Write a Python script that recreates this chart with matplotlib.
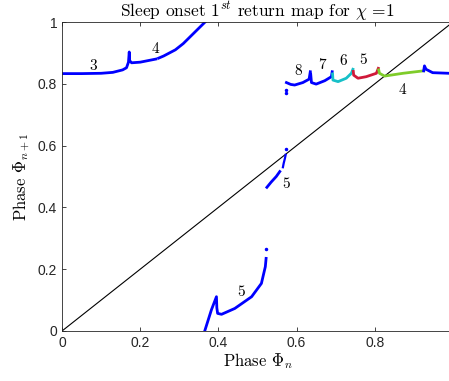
import numpy as np
import matplotlib
matplotlib.use('Agg')
import matplotlib.pyplot as plt

plt.rcParams['mathtext.fontset'] = 'cm'

# branch curves (phase_n, phase_n+1)
top_left_x = [0.0, 0.05, 0.10, 0.13, 0.155, 0.165, 0.170, 0.172, 0.173, 0.178, 0.20, 0.24]
top_left_y = [0.833, 0.833, 0.834, 0.837, 0.845, 0.852, 0.870, 0.903, 0.875, 0.868, 0.870, 0.880]
top_left2_x = [0.247, 0.26, 0.29, 0.31, 0.33, 0.35, 0.366]
top_left2_y = [0.883, 0.890, 0.910, 0.930, 0.955, 0.980, 1.0]

b8_x = [0.574, 0.585, 0.595, 0.616, 0.632, 0.635]
b8_y = [0.804, 0.798, 0.796, 0.804, 0.815, 0.839]
b8_dots_x = [0.572, 0.572]
b8_dots_y = [0.780, 0.770]
b7_x = [0.636, 0.638, 0.650, 0.672, 0.689, 0.691]
b7_y = [0.832, 0.804, 0.799, 0.810, 0.823, 0.839]
b6_x = [0.692, 0.693, 0.706, 0.727, 0.740, 0.744]
b6_y = [0.832, 0.812, 0.807, 0.818, 0.834, 0.847]
b5_x = [0.745, 0.746, 0.757, 0.778, 0.804, 0.809]
b5_y = [0.840, 0.828, 0.818, 0.823, 0.834, 0.850]
b4_x = [0.810, 0.812, 0.825, 0.872, 0.925]
b4_y = [0.845, 0.834, 0.825, 0.834, 0.842]
b4b_x = [0.925, 0.927, 0.931, 0.948, 0.99, 1.0]
b4b_y = [0.842, 0.858, 0.847, 0.836, 0.834, 0.834]

mid_x = [0.524, 0.535, 0.548, 0.557]
mid_y = [0.465, 0.482, 0.500, 0.516]
mid2_x = [0.565, 0.567, 0.570, 0.572]
mid2_y = [0.530, 0.543, 0.558, 0.570]
mid_dot = (0.572, 0.588)

low_x = [0.365, 0.382, 0.395, 0.396, 0.398, 0.408, 0.442, 0.485, 0.510, 0.520, 0.522]
low_y = [0.0, 0.068, 0.111, 0.075, 0.057, 0.054, 0.073, 0.111, 0.154, 0.208, 0.235]
low_dot = (0.523, 0.264)

labels = [('3', 0.079, 0.858), ('4', 0.238, 0.913), ('8', 0.603, 0.842),
          ('7', 0.664, 0.860), ('6', 0.718, 0.872), ('5', 0.771, 0.878),
          ('4', 0.871, 0.78), ('5', 0.574, 0.476), ('5', 0.457, 0.126)]

blue = '#0000ff'
cyan = '#17c0c8'
red = '#d0193a'
green = '#7fcc2a'

fig = plt.figure(figsize=(4.49, 3.81), dpi=100)
ax = fig.add_axes([62/449, 50/381, 391/449, 309/381])

ax.plot([0, 1], [0, 1], color='black', lw=0.8)

lw = 2.0
ax.plot(top_left_x, top_left_y, color=blue, lw=lw)
ax.plot(top_left2_x, top_left2_y, color=blue, lw=lw)
ax.plot(b8_x, b8_y, color=blue, lw=lw)
ax.plot(b8_dots_x, b8_dots_y, '.', color=blue, ms=3)
ax.plot(b7_x, b7_y, color=blue, lw=lw)
ax.plot(b6_x, b6_y, color=cyan, lw=lw)
ax.plot(b5_x, b5_y, color=red, lw=lw)
ax.plot(b4_x, b4_y, color=green, lw=lw)
ax.plot(b4b_x, b4b_y, color=blue, lw=lw)
ax.plot(mid_x, mid_y, color=blue, lw=lw)
ax.plot(mid2_x, mid2_y, color=blue, lw=1.6)
ax.plot([mid_dot[0]], [mid_dot[1]], '.', color=blue, ms=3)
ax.plot(low_x, low_y, color=blue, lw=lw)
ax.plot([low_dot[0]], [low_dot[1]], '.', color=blue, ms=3)

for t, x, y in labels:
    ax.text(x, y, t, family='cmr10', fontsize=11, ha='center', va='center')

ax.set_xlim(0, 1)
ax.set_ylim(0, 1)
ax.set_xticks([0, 0.2, 0.4, 0.6, 0.8])
ax.set_xticklabels(['0', '0.2', '0.4', '0.6', '0.8'])
ax.set_yticks([0, 0.2, 0.4, 0.6, 0.8, 1])
ax.set_yticklabels(['0', '0.2', '0.4', '0.6', '0.8', '1'])
ax.tick_params(direction='in', top=True, right=True, length=3, width=0.6,
               labelsize=10, colors='#262626')
for lab in ax.get_xticklabels() + ax.get_yticklabels():
    lab.set_family('Liberation Sans')
for s in ax.spines.values():
    s.set_color('#262626')
    s.set_linewidth(0.6)

ax.set_title(r'Sleep onset 1$^{st}$ return map for $\chi$ =1', family='cmr10',
             fontsize=12.5, pad=4)
ax.set_xlabel(r'Phase $\Phi_n$', family='cmr10', fontsize=12, labelpad=1)
ax.set_ylabel(r'Phase $\Phi_{n+1}$', family='cmr10', fontsize=12, labelpad=4)

plt.savefig('out.png', dpi=100)
